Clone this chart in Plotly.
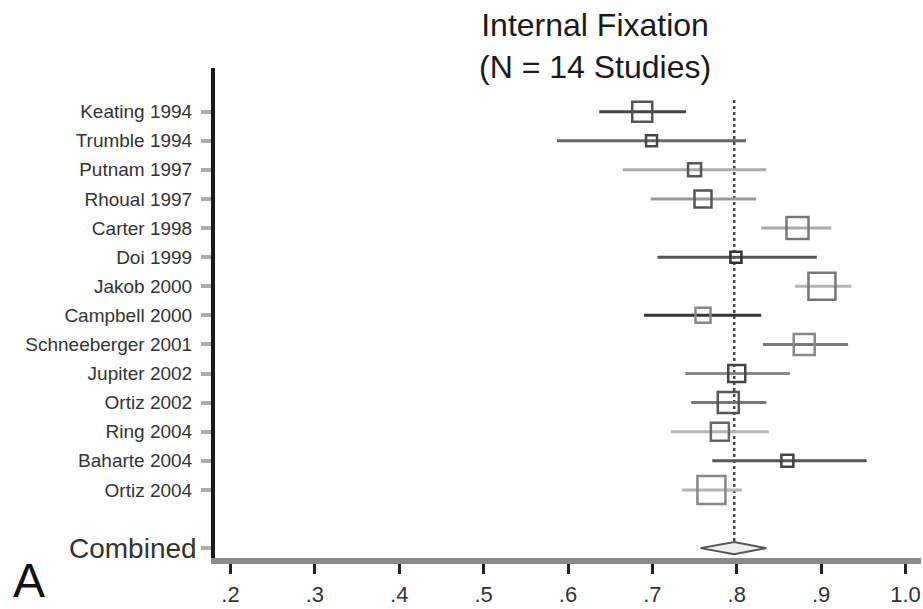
import plotly.graph_objects as go

studies = ["Keating 1994", "Trumble 1994", "Putnam 1997", "Rhoual 1997", "Carter 1998",
           "Doi 1999", "Jakob 2000", "Campbell 2000", "Schneeberger 2001", "Jupiter 2002",
           "Ortiz 2002", "Ring 2004", "Baharte 2004", "Ortiz 2004"]
estimate = [0.688, 0.699, 0.750, 0.760, 0.872, 0.799, 0.901, 0.760, 0.880, 0.800, 0.790, 0.780, 0.860, 0.770]
ci_low   = [0.637, 0.587, 0.665, 0.698, 0.829, 0.706, 0.869, 0.690, 0.831, 0.739, 0.746, 0.722, 0.771, 0.735]
ci_high  = [0.740, 0.811, 0.835, 0.823, 0.912, 0.895, 0.936, 0.829, 0.932, 0.863, 0.835, 0.838, 0.954, 0.806]
weights  = [20, 11, 13, 17, 22, 11, 27, 15, 21, 17, 21, 18, 12, 28]

combined_label = "Combined"
combined_est, combined_low, combined_high = 0.797, 0.757, 0.835

x_tickvals = [0.2, 0.3, 0.4, 0.5, 0.6, 0.7, 0.8, 0.9, 1.0]
x_ticktext = [".2", ".3", ".4", ".5", ".6", ".7", ".8", ".9", "1.0"]

title_text = "Internal Fixation<br>(N = 14 Studies)"
panel_letter = "A"

line_grays = ["#444444", "#666666", "#aaaaaa", "#999999", "#aaaaaa", "#555555", "#b5b5b5",
              "#333333", "#777777", "#888888", "#777777", "#b5b5b5", "#555555", "#b5b5b5"]
box_grays = ["#555555", "#444444", "#555555", "#555555", "#777777", "#333333", "#777777",
             "#888888", "#888888", "#444444", "#555555", "#666666", "#444444", "#888888"]

FONT = "Liberation Sans, Arial, Helvetica, sans-serif"
rows = list(range(1, len(studies) + 1))
combined_row = len(studies) + 2

fig = go.Figure()

# reference (combined estimate) dotted line
fig.add_shape(type="line", x0=combined_est, x1=combined_est, y0=0.6, y1=combined_row,
              xref="x", yref="y", line=dict(color="#444444", width=2.5, dash="3px,3px"), layer="below")

for i, name in enumerate(studies):
    fig.add_trace(go.Scatter(
        x=[ci_low[i], ci_high[i]], y=[rows[i], rows[i]], mode="lines",
        line=dict(color=line_grays[i], width=3), showlegend=False, hoverinfo="skip"))
    fig.add_trace(go.Scatter(
        x=[estimate[i]], y=[rows[i]], mode="markers",
        marker=dict(symbol="square-open", size=weights[i], color=box_grays[i],
                    line=dict(width=2.5, color=box_grays[i])),
        name=name, showlegend=False))

# combined diamond
h = 0.21
fig.add_trace(go.Scatter(
    x=[combined_low, combined_est, combined_high, combined_est, combined_low],
    y=[combined_row, combined_row - h, combined_row, combined_row + h, combined_row],
    mode="lines", fill="toself", fillcolor="#eeeeee",
    line=dict(color="#555555", width=2), showlegend=False, name=combined_label))

fig.update_layout(
    width=923, height=609,
    margin=dict(l=215, r=2, t=68, b=51),
    paper_bgcolor="white", plot_bgcolor="white",
    font=dict(family=FONT, color="#222222"),
    xaxis=dict(range=[0.1816, 1.0184], tickvals=x_tickvals, ticktext=x_ticktext,
               automargin=False, ticklabeloverflow="allow",
               showgrid=False, zeroline=False, showline=True, linecolor="#8a8a8a", linewidth=6,
               ticks="outside", ticklen=10, tickwidth=3, tickcolor="#222222",
               ticklabelstandoff=2,
               tickfont=dict(size=22, color="#333333", family=FONT)),
    yaxis=dict(range=[16.34, -0.50], tickvals=rows + [combined_row],
               ticktext=studies + [""], automargin=False,
               showgrid=False, zeroline=False, showline=True, linecolor="#1a1a1a", linewidth=4,
               ticks="outside", ticklen=10, tickwidth=4, tickcolor="#aaaaaa",
               ticklabelstandoff=5,
               tickfont=dict(size=19, color="#333333", family=FONT)),
    annotations=[
        dict(text=title_text, x=0.538, y=1.0449, xref="paper", yref="paper",
             xanchor="center", yanchor="middle", showarrow=False,
             font=dict(size=32, color="#1a1a1a", family=FONT)),
        dict(text=combined_label, x=-0.0227, y=combined_row, xref="paper", yref="y",
             xanchor="right", yanchor="middle", showarrow=False,
             font=dict(size=28, color="#333333", family=FONT)),
        dict(text=panel_letter, x=-0.2635, y=-0.1041, xref="paper", yref="paper",
             xanchor="center", yanchor="bottom", showarrow=False,
             font=dict(size=48, color="#111111", family=FONT)),
    ],
)

fig.write_html("out.html", config={"displayModeBar": False},
               post_script="document.body.style.margin='0px';")
